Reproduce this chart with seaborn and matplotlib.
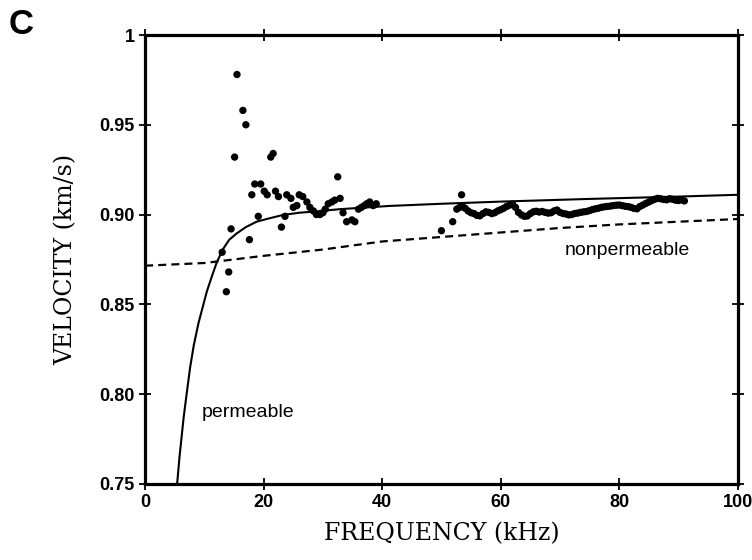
import matplotlib
matplotlib.use("Agg")
import matplotlib.pyplot as plt
import pandas as pd
import seaborn as sns

# measured velocities (scatter)
freq_pts = [
    13.0, 13.7, 14.1, 14.5, 15.1, 15.5, 16.5, 17.0, 17.6, 18.0, 18.5, 19.1,
    19.5, 20.1, 20.6, 21.2, 21.6, 22.0, 22.5, 23.0, 23.6, 23.9, 24.6, 25.0,
    25.6, 26.0, 26.6, 27.3, 27.8, 28.4, 28.9, 29.5, 30.0, 30.4, 30.9, 31.5,
    32.0, 32.5, 32.9, 33.4, 34.0, 34.9, 35.4, 36.0, 36.5, 37.0, 37.4, 37.9,
    38.5, 39.0, 50.0, 51.9, 52.6, 53.1, 53.4,
    53.5, 54.0, 54.5, 55.0, 55.5, 56.0, 56.5, 57.0, 57.5, 58.0, 58.5, 59.0,
    59.5, 60.0, 60.5, 61.0, 61.5, 62.0, 62.5, 63.0, 63.5, 64.0, 64.5, 65.0,
    65.5, 66.0, 66.5, 67.0, 67.5, 68.0, 68.5, 69.0, 69.5, 70.0, 70.5, 71.0,
    71.5, 72.0, 72.5, 73.0, 73.5, 74.0, 74.5, 75.0, 75.5, 76.0, 76.5, 77.0,
    77.5, 78.0, 78.5, 79.0, 79.5, 80.0, 80.5, 81.0, 81.5, 82.0, 82.5, 83.0,
    83.5, 84.0, 84.5, 85.0, 85.5, 86.0, 86.5, 87.0, 87.5, 88.0, 88.5, 89.0,
    89.5, 90.0, 90.5, 91.0,
]
vel_pts = [
    0.879, 0.857, 0.868, 0.892, 0.932, 0.978, 0.958, 0.950, 0.886, 0.911, 0.917, 0.899,
    0.917, 0.913, 0.911, 0.932, 0.934, 0.913, 0.910, 0.893, 0.899, 0.911, 0.909, 0.904,
    0.905, 0.911, 0.910, 0.907, 0.904, 0.902, 0.900, 0.900, 0.901, 0.903, 0.906, 0.907,
    0.908, 0.921, 0.909, 0.901, 0.896, 0.897, 0.896, 0.903, 0.904, 0.905, 0.906, 0.907,
    0.905, 0.906, 0.891, 0.896, 0.903, 0.904, 0.911,
    0.9048, 0.9035, 0.9020, 0.9010, 0.9005, 0.8995, 0.8993, 0.9005, 0.9015, 0.9012, 0.9005, 0.9010,
    0.9020, 0.9027, 0.9035, 0.9045, 0.9052, 0.9058, 0.9040, 0.9012, 0.8998, 0.8990, 0.8992, 0.9005,
    0.9015, 0.9018, 0.9014, 0.9017, 0.9012, 0.9008, 0.9010, 0.9020, 0.9025, 0.9012, 0.9006, 0.9003,
    0.8998, 0.9000, 0.9006, 0.9008, 0.9012, 0.9015, 0.9017, 0.9022, 0.9028, 0.9032, 0.9035, 0.9040,
    0.9043, 0.9045, 0.9047, 0.9050, 0.9052, 0.9053, 0.9050, 0.9046, 0.9044, 0.9040, 0.9034, 0.9032,
    0.9045, 0.9053, 0.9062, 0.9070, 0.9078, 0.9085, 0.9090, 0.9088, 0.9084, 0.9082, 0.9088, 0.9085,
    0.9080, 0.9078, 0.9082, 0.9076,
]

# theoretical curves
freq_perm = [5.4, 5.8, 6.5, 7.0, 7.6, 8.2, 9.0, 10.4, 11.2, 12.1, 13.2, 14.2,
             15.5, 17.0, 18.8, 20.5, 23.3, 26.0, 28.4, 32.9, 41.3, 50.0, 60.0,
             75.0, 90.0, 100.0]
vel_perm = [0.750, 0.765, 0.787, 0.800, 0.815, 0.827, 0.8395, 0.857, 0.865, 0.8735,
            0.881, 0.886, 0.8896, 0.893, 0.896, 0.8975, 0.8998, 0.901, 0.9016, 0.903,
            0.9048, 0.906, 0.9072, 0.9087, 0.9100, 0.911]

freq_nonperm = [0, 10, 20, 30, 40, 50, 60, 70, 80, 90, 100]
vel_nonperm = [0.8715, 0.873, 0.877, 0.8805, 0.885, 0.8875, 0.890, 0.8925, 0.8945, 0.896, 0.8975]

sns.set_style("ticks")
plt.rcParams["font.family"] = ["DejaVu Sans"]
plt.rcParams["text.color"] = "black"
plt.rcParams["axes.labelcolor"] = "black"

fig = plt.figure(figsize=(7.52, 5.6), dpi=100)
ax = fig.add_axes([0.193, 0.136, 0.788, 0.8015])

pts = pd.DataFrame({"freq": freq_pts, "vel": vel_pts})
sns.scatterplot(data=pts, x="freq", y="vel", ax=ax, color="black", s=28,
                edgecolor="none", zorder=3)
sns.lineplot(x=freq_perm, y=vel_perm, ax=ax, color="black", linewidth=1.5,
             sort=False, estimator=None)
sns.lineplot(x=freq_nonperm, y=vel_nonperm, ax=ax, color="black", linewidth=1.6,
             sort=False, estimator=None, dashes=False, linestyle=(0, (3.6, 2.3)))

ax.set_xlim(0, 100)
ax.set_ylim(0.75, 1.0)
ax.set_xticks([0, 20, 40, 60, 80, 100])
ax.set_yticks([0.75, 0.80, 0.85, 0.90, 0.95, 1.0])
ax.set_yticklabels(["0.75", "0.80", "0.85", "0.90", "0.95", "1"])

for side in ["left", "right", "top", "bottom"]:
    ax.spines[side].set_visible(True)
    ax.spines[side].set_linewidth(2.3)
    ax.spines[side].set_color("black")

ax.tick_params(axis="both", which="major", direction="inout", length=8, width=1.3,
               labelsize=13, colors="black")
ax.tick_params(top=True, right=True)
for lab in ax.get_xticklabels() + ax.get_yticklabels():
    lab.set_fontweight("bold")
    lab.set_family("Liberation Sans")

ax.set_xlabel("FREQUENCY (kHz)", family="DejaVu Serif", fontsize=17, labelpad=8,
              color="black")
ax.set_ylabel("VELOCITY (km/s)", family="DejaVu Serif", fontsize=17, labelpad=16,
              color="black")

ax.text(17.4, 0.790, "permeable", family="Liberation Sans", fontsize=14,
        ha="center", va="center", color="black")
ax.text(81.3, 0.880, "nonpermeable", family="Liberation Sans", fontsize=14,
        ha="center", va="center", color="black")
fig.text(0.012, 0.957, "C", family="Liberation Sans", fontsize=25,
         fontweight="bold", ha="left", va="center", color="black")

fig.savefig("out.png", dpi=100)
